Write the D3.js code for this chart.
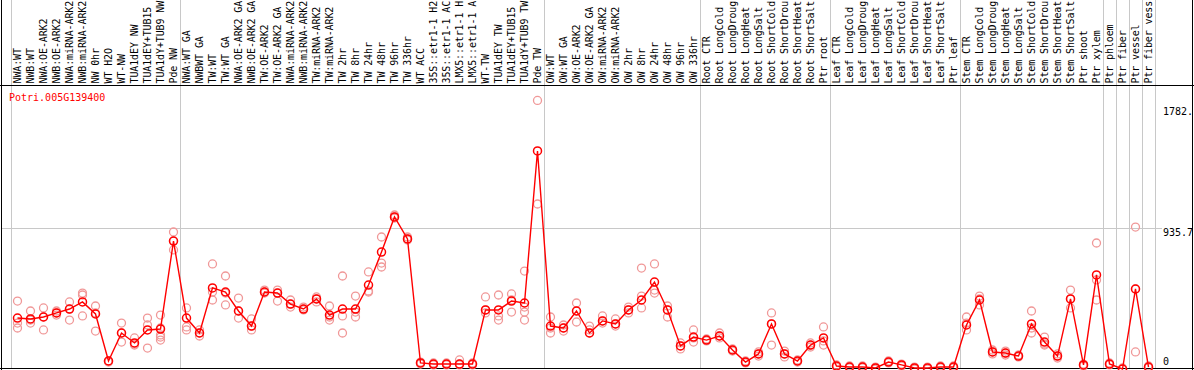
<!DOCTYPE html>
<html><head><meta charset="utf-8">
<script src="https://cdn.jsdelivr.net/npm/d3@7"></script>
<style>
html,body{margin:0;padding:0;background:#fff;}
svg{display:block;}
text{font-family:"DejaVu Sans Mono",monospace;font-size:10px;}
</style></head>
<body>
<svg id="chart" width="1194" height="370"></svg>
<script>
const geneName = "Potri.005G139400";
const categories = [
"NWA:WT","NWB:WT","NWA:OE-ARK2","NWB:OE-ARK2","NWA:miRNA-ARK2","NWB:miRNA-ARK2","NW 0hr","WT H2O","WT-NW","TUA1dEY NW","TUA1dEY+TUB15","TUA1dY+TUB9 NW","Pde NW",
"NWA:WT GA","NWBWT GA","TW:WT","TW:WT GA","NWA:OE-ARK2 GA","NWB:OE-ARK2 GA","TW:OE-ARK2","TW:OE-ARK2 GA","NWA:miRNA-ARK2","NWB:miRNA-ARK2","TW:miRNA-ARK2","TW:miRNA-ARK2","TW 2hr","TW 8hr","TW 24hr","TW 48hr","TW 96hr","TW 336hr","WT ACC","35S::etr1-1 H2","35S::etr1-1 AC","LMX5::etr1-1 H","LMX5::etr1-1 A","WT-TW","TUA1dEY TW","TUA1dEY+TUB15","TUA1dY+TUB9 TW","Pde TW",
"OW:WT","OW:WT GA","OW:OE-ARK2","OW:OE-ARK2 GA","OW:miRNA-ARK2","OW:miRNA-ARK2","OW 2hr","OW 8hr","OW 24hr","OW 48hr","OW 96hr","OW 336hr",
"Root CTR","Root LongCold","Root LongDroug","Root LongHeat","Root LongSalt","Root ShortCold","Root ShortDrou","Root ShortHeat","Root ShortSalt","Ptr root",
"Leaf CTR","Leaf LongCold","Leaf LongDroug","Leaf LongHeat","Leaf LongSalt","Leaf ShortCold","Leaf ShortDrou","Leaf ShortHeat","Leaf ShortSalt","Ptr leaf",
"Stem CTR","Stem LongCold","Stem LongDroug","Stem LongHeat","Stem LongSalt","Stem ShortCold","Stem ShortDrou","Stem ShortHeat","Stem ShortSalt","Ptr shoot","Ptr xylem",
"Ptr phloem","Ptr fiber","Ptr vessel","Ptr fiber vess"
];
const means = [
338,332,345,372,398,445,365,53,239,173,259,265,849,
338,239,538,511,385,285,511,504,431,398,465,358,398,398,557,776,1009,863,40,33,33,33,33,392,392,451,438,1447,
285,272,385,239,319,299,392,458,577,392,153,212,
192,219,126,46,100,299,100,53,159,206,
20,13,13,7,46,27,7,7,13,13,
292,458,113,106,86,299,179,86,465,27,624,
33,0,531,13
];
const replicates = [
[451,305,272],[385,305,325],[405,259,345],[385,358,372],[445,325,398],[504,491,352],[418,372,252],[53,53,46],[305,179,239],[206,166,159],[338,292,139],[358,272,226,212,192],[909,790,849],
[405,279,259],[259,219,239],[697,511,458],[617,504,425],[471,338,385],[332,259,285],[524,504,511],[524,504,451],[458,411,431],[411,392,398],[478,445,465],[418,345,325],[617,352,239],[484,345,378],[644,518,511],[876,677,703],[1022,1002,1009],[876,856,863],[46,40,33],[40,33,27],[40,33,27],[60,27,33],[40,33,27],[478,372,392],[491,352,325],[498,458,378],[650,411,378,325],[1782,1095],
[345,272,239],[292,272,252],[438,312,385],[285,259,239],[352,305,319],[332,285,299],[411,372,392],[670,484,405],[697,524,504],[418,345,392],[173,133,153],[259,206,179],
[199,192,186],[239,206,219],[133,126,119],[53,46,40],[113,100,86],[372,159,299],[119,100,80],[60,53,46],[173,159,146],[279,159,186],
[27,20,13],[20,13,7],[20,13,7],[13,7,0],[53,46,40],[33,27,20],[13,7,0],[13,7,0],[20,13,7],[20,13,7],
[345,305,259],[484,425,465],[126,113,100],[119,106,93],[93,86,80],[385,272,239],[212,159,166],[100,86,73],[524,465,405],[33,27,20],[836,591,458],
[40,33,27],[7,0,0],[942,113,531],[20,13,7]
];
const groupEnds = [0,13,41,53,63,73,84,85,86,87,88];
const yTickValues = [1782, 935.7, 0];
const yTickLabels = ["1782.", "935.7", "0"];
const gridValue = 935.7;
const yMax = 1871.4;

const svg = d3.select("#chart");
const W = 1194, H = 370;
const colW = 13, x0 = 11;
const headerY = 85, plotBottom = 369, plotTop = 87;

const idx = d3.range(categories.length);
const x = d3.scaleBand().domain(idx).range([x0, x0 + colW * categories.length]).padding(0);
const y = d3.scaleLinear().domain([0, yMax]).range([plotBottom, plotTop]);
const xc = i => x(i) + x.bandwidth() / 2;

// vertical group lines
svg.append("g").selectAll("line").data(groupEnds).join("line")
  .attr("x1", d => x0 + d * colW + 0.5).attr("x2", d => x0 + d * colW + 0.5)
  .attr("y1", 0).attr("y2", plotBottom)
  .attr("stroke", "#c8c8c8").attr("stroke-width", 1);

// mid gridline
svg.append("line").attr("x1", 1).attr("x2", 1162)
  .attr("y1", Math.round(y(gridValue)) + 0.5).attr("y2", Math.round(y(gridValue)) + 0.5)
  .attr("stroke", "#c8c8c8").attr("stroke-width", 1);

// frame
svg.append("line").attr("x1", 0).attr("x2", W).attr("y1", headerY + 0.5).attr("y2", headerY + 0.5).attr("stroke", "#000");
svg.append("line").attr("x1", 0).attr("x2", W).attr("y1", plotBottom - 0.5).attr("y2", plotBottom - 0.5).attr("stroke", "#000");
svg.append("line").attr("x1", 1.5).attr("x2", 1.5).attr("y1", 0).attr("y2", H).attr("stroke", "#000");
svg.append("line").attr("x1", W - 1.5).attr("x2", W - 1.5).attr("y1", 0).attr("y2", H).attr("stroke", "#000");

// category labels
svg.append("g").selectAll("text").data(idx).join("text")
  .attr("transform", i => `translate(${xc(i) + 3.5},83.5) rotate(-90)`)
  .attr("text-anchor", "start")
  .attr("letter-spacing", "-0.12px")
  .attr("fill", "#000")
  .text(i => categories[i]);

// gene name
svg.append("text").attr("x", 9).attr("y", 101).attr("fill", "#ff0000").text(geneName);

// y tick labels
const tickDy = [14.5, 8, -4];
svg.append("g").selectAll("text").data(yTickValues).join("text")
  .attr("x", 1163)
  .attr("y", (d, i) => y(d) + tickDy[i])
  .attr("fill", "#000")
  .text((d, i) => yTickLabels[i]);

// replicate circles
const repPts = [];
replicates.forEach((arr, i) => arr.forEach(v => repPts.push({i, v})));
svg.append("g").selectAll("circle").data(repPts).join("circle")
  .attr("cx", d => xc(d.i)).attr("cy", d => y(d.v)).attr("r", 4)
  .attr("fill", "none").attr("stroke", "#f09898").attr("stroke-width", 1.3);

// mean line
svg.append("path").datum(means)
  .attr("d", d3.line().x((d, i) => xc(i)).y(d => y(d)))
  .attr("fill", "none").attr("stroke", "#ff0000").attr("stroke-width", 1.4);

// mean circles
svg.append("g").selectAll("circle").data(means).join("circle")
  .attr("cx", (d, i) => xc(i)).attr("cy", d => y(d)).attr("r", 4)
  .attr("fill", "none").attr("stroke", "#ff0000").attr("stroke-width", 1.5);
</script>
</body></html>
